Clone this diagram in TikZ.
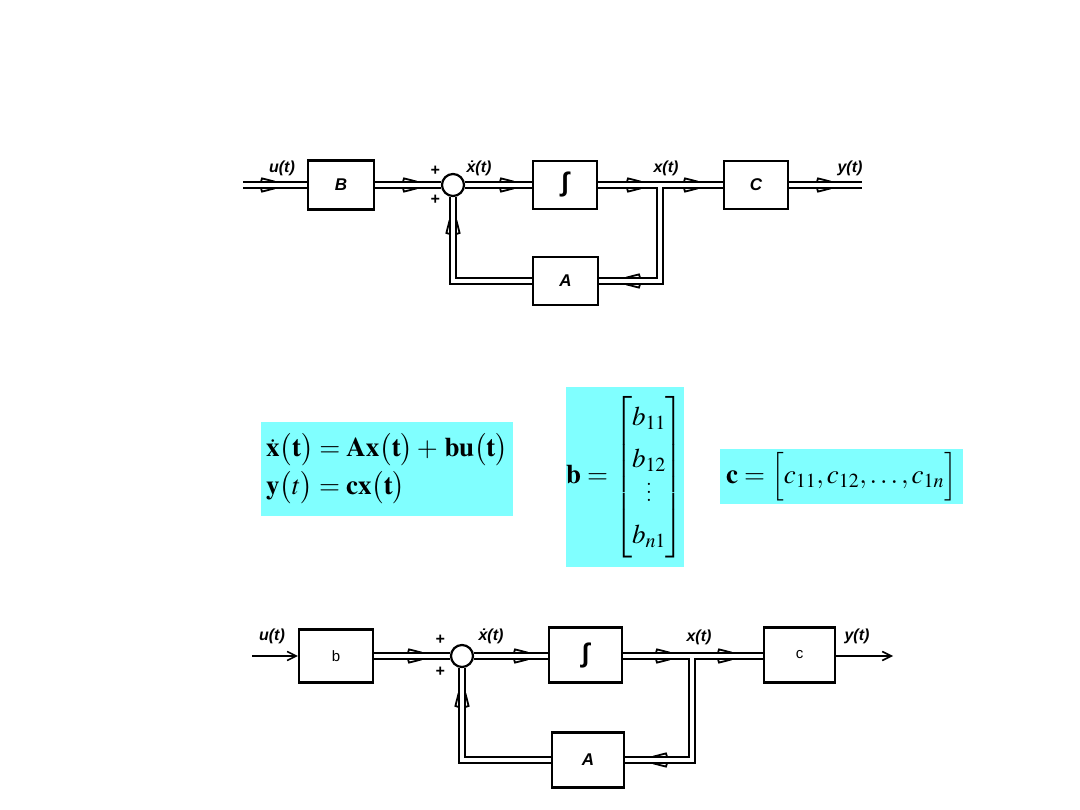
\documentclass[tikz,border=0pt]{standalone}
\usepackage{amsmath}
\usepackage{mathptmx}
\usepackage[no-math]{fontspec}
\newfontfamily\diagfont{Liberation Sans}
\usetikzlibrary{arrows.meta,positioning,backgrounds}
\definecolor{eqcyan}{HTML}{80FFFF}
\newcommand\tallvdots{\vbox{\baselineskip=8pt\lineskiplimit=0pt\kern4pt\hbox{.}\hbox{.}\hbox{.}}}

% hollow arrow on a two-line (vector) signal, tip at the origin
\tikzset{
  varr/.pic={
    \draw[line width=1.8pt] (-14,3.3) -- (-13,6.6) -- (0,3.3);
    \draw[line width=1.8pt] (-14,-3.3) -- (-13,-6.6) -- (0,-3.3);
  }
}

\begin{document}
\begin{tikzpicture}[
  x=1pt, y=-1pt,
  blk/.style={draw, line width=2.2pt, fill=white, inner sep=0pt},
  sumpt/.style={draw, circle, line width=2.2pt, fill=white, minimum size=22pt, inner sep=0pt},
  bus/.style={draw=white, line width=4.6pt, preaction={draw=black, line width=8.4pt}},
  sig/.style={line width=1.6pt, -{Straight Barb[length=9pt, width=9pt, line width=1.6pt]}},
  lbl/.style={font=\diagfont\bfseries\itshape\fontsize{16}{16}\selectfont, inner sep=0pt},
  boxlbl/.style={font=\diagfont\bfseries\itshape\fontsize{17}{17}\selectfont},
  intlbl/.style={font=\diagfont\bfseries\itshape\fontsize{27}{27}\selectfont},
  eqbox/.style={fill=eqcyan, inner sep=0pt, font=\fontsize{27}{38}\selectfont}
]
  \useasboundingbox (0,0) rectangle (1080,810);

  % upper diagram
  \node[blk, minimum width=66pt, minimum height=49pt, boxlbl] (B1) at (341,185) {B};
  \node[sumpt] (S1) at (453,185) {};
  \node[blk, minimum width=64pt, minimum height=48pt, intlbl] (I1) at (565,185) {∫};
  \node[blk, minimum width=64pt, minimum height=48pt, boxlbl] (C1) at (756,185) {C};
  \node[blk, minimum width=65pt, minimum height=48pt, boxlbl] (A1) at (565.5,281) {A};
  \coordinate (in1) at (243,185);
  \coordinate (out1) at (862,185);
  \coordinate (br1) at (660,185);

  \begin{scope}[on background layer]
    \draw[bus] (in1) -- (B1.west) (B1.east) -- (S1.west) (S1.east) -- (I1.west)
      (I1.east) -- (C1.west) (C1.east) -- (out1)
      (br1) |- (A1.east) (A1.west) -| (S1.south);
  \end{scope}
  \pic at (275,185) {varr};
  \pic at (417,185) {varr};
  \pic at (514,185) {varr};
  \pic at (641,185) {varr};
  \pic at (698,185) {varr};
  \pic at (831,185) {varr};
  \pic[rotate=180] at (626,281) {varr};
  \pic[rotate=90] at (453,220) {varr};

  \node[lbl] (u1) at (282,168) {u(t)};
  \node[lbl] (xd1) at (479,168) {\.x(t)};
  \node[lbl] (x1) at (666,168) {x(t)};
  \node[lbl] (y1) at (850,168) {y(t)};
  \node[lbl] (p1) at (435,171) {+};
  \node[lbl] (p2) at (435,200) {+};

  % model equations
  \node[eqbox, minimum width=252pt, minimum height=94pt, align=left] (eq) at (387,469)
    {$\dot{\mathbf x}\bigl(\mathbf t\bigr)=\mathbf{Ax}\bigl(\mathbf t\bigr)+\,\mathbf{bu}\bigl(\mathbf t\bigr)$\\
     $\mathbf y\bigl(t\bigr)=\mathbf{cx}\bigl(\mathbf t\bigr)$};
  \node[eqbox, minimum width=116pt, minimum height=180pt] (bvec) at (625,477)
    {$\mathbf b=\left[\begin{matrix} b_{11}\\[4pt] b_{12}\\[-4pt] \tallvdots\\[4pt] b_{n1}\end{matrix}\right]$};
  \node[eqbox, minimum width=243pt, minimum height=55pt] (cvec) at (841.5,476.5)
    {$\mathbf c=\Bigl[c_{11},c_{12},\ldots,c_{1n}\Bigr]$};

  % lower diagram
  \node[blk, minimum width=74pt, minimum height=53pt, font=\diagfont\fontsize{15}{15}\selectfont] (B2) at (336,656) {b};
  \node[sumpt] (S2) at (462,656) {};
  \node[blk, minimum width=73pt, minimum height=55pt, intlbl] (I2) at (585.5,655) {∫};
  \node[blk, minimum width=71pt, minimum height=55pt, font=\diagfont\fontsize{15}{15}\selectfont] (C2) at (799.5,655) {c};
  \node[blk, minimum width=72pt, minimum height=55pt, boxlbl] (A2) at (588,760) {A};
  \coordinate (in2) at (252,656);
  \coordinate (out2) at (893,656);
  \coordinate (br2) at (692,656);

  \begin{scope}[on background layer]
    \draw[bus] (B2.east) -- (S2.west) (S2.east) -- (I2.west |- S2.east)
      (I2.east |- S2.east) -- (C2.west |- S2.east)
      (br2) |- (A2.east) (A2.west) -| (S2.south);
  \end{scope}
  \draw[sig] (in2) -- (B2.west |- in2);
  \draw[sig] (C2.east |- out2) -- (out2);
  \pic at (422,656) {varr};
  \pic at (528,656) {varr};
  \pic at (670,656) {varr};
  \pic at (732,656) {varr};
  \pic[rotate=180] at (653,760) {varr};
  \pic[rotate=90] at (462,693) {varr};

  \node[lbl] (u2) at (272,636) {u(t)};
  \node[lbl] (xd2) at (491,636) {\.x(t)};
  \node[lbl] (x2) at (699,637) {x(t)};
  \node[lbl] (y2) at (857,636) {y(t)};
  \node[lbl] (p3) at (440,640) {+};
  \node[lbl] (p4) at (440,672) {+};
\end{tikzpicture}
\end{document}
